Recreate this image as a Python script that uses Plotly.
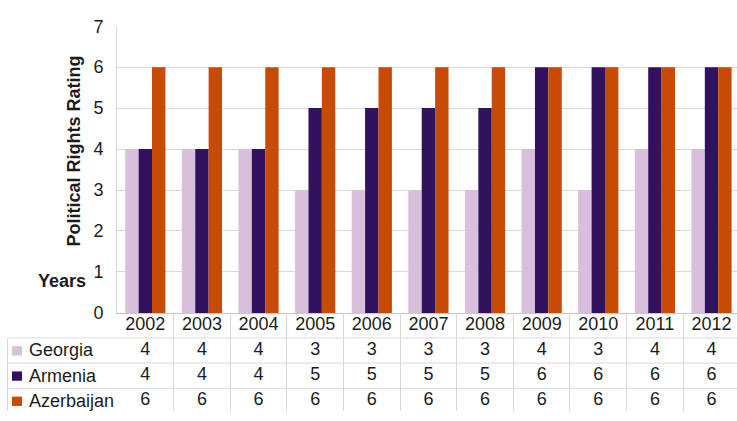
import plotly.graph_objects as go

years = ["2002", "2003", "2004", "2005", "2006", "2007", "2008", "2009", "2010", "2011", "2012"]
georgia = [4, 4, 4, 3, 3, 3, 3, 4, 3, 4, 4]
armenia = [4, 4, 4, 5, 5, 5, 5, 6, 6, 6, 6]
azerbaijan = [6, 6, 6, 6, 6, 6, 6, 6, 6, 6, 6]
series_names = ["Georgia", "Armenia", "Azerbaijan"]
series_values = [georgia, armenia, azerbaijan]
series_colors = ["#d9bfdc", "#32125f", "#c84b05"]
y_ticks = [0, 1, 2, 3, 4, 5, 6, 7]

W, H = 737, 421
FONT = "Liberation Sans, Arial, sans-serif"
TXT = "#1c1c1c"
GRID = "#d9d9d9"


def px(x):
    return x / W


def py(y):
    return (H - y) / H


fig = go.Figure()

for name, vals, col in zip(series_names, series_values, series_colors):
    fig.add_trace(go.Bar(x=years, y=vals, name=name, marker=dict(color=col, line=dict(width=0)),
                         xaxis="x", yaxis="y", showlegend=False, hoverinfo="x+y+name"))

# table header (years)
fig.add_trace(go.Scatter(x=years, y=[0] * len(years), mode="text", text=years,
                         textfont=dict(family=FONT, size=18, color=TXT),
                         xaxis="x2", yaxis="y2", showlegend=False, hoverinfo="skip"))
# table rows
for i, vals in enumerate(series_values):
    fig.add_trace(go.Scatter(x=years, y=[i + 1] * len(years), mode="text",
                             text=[str(v) for v in vals],
                             textfont=dict(family=FONT, size=18, color=TXT),
                             xaxis="x2", yaxis="y2", showlegend=False, hoverinfo="skip"))

shapes = []
annotations = []
# horizontal table lines
for b in [0.5, 1.5, 2.5]:
    shapes.append(dict(type="line", xref="paper", yref="y2", x0=px(7.5), x1=1, y0=b, y1=b,
                       line=dict(color=GRID, width=1)))
# left border of label column
shapes.append(dict(type="line", xref="paper", yref="y2", x0=px(7.5), x1=px(7.5), y0=0.5, y1=3.6,
                   line=dict(color=GRID, width=1)))
# row labels with colour keys
for i, (name, col) in enumerate(zip(series_names, series_colors)):
    r = i + 1
    shapes.append(dict(type="rect", xref="paper", yref="y2", x0=px(12), x1=px(22),
                       y0=r - 0.17, y1=r + 0.2, fillcolor=col, line=dict(width=0)))
    annotations.append(dict(text=name, xref="paper", yref="y2", x=px(26.5), y=r, xanchor="left",
                            yanchor="middle", showarrow=False,
                            font=dict(family=FONT, size=18, color=TXT)))

annotations.append(dict(text="<b>Political Rights Rating</b>", textangle=-90, xref="paper", yref="paper",
                        x=px(74), y=py(148.5), xanchor="center", yanchor="middle", showarrow=False,
                        font=dict(family=FONT, size=18, color=TXT)))
annotations.append(dict(text="<b>Years</b>", xref="paper", yref="paper",
                        x=px(62), y=py(285), xanchor="center", yanchor="middle", showarrow=False,
                        font=dict(family=FONT, size=18, color=TXT)))

fig.update_layout(
    width=W, height=H, autosize=False,
    margin=dict(l=0, r=0, t=0, b=0),
    paper_bgcolor="white", plot_bgcolor="white",
    barmode="group", bargap=0.29, bargroupgap=0,
    xaxis=dict(domain=[px(117), 1], range=[-0.5, 10.45], type="category", categoryarray=years,
               anchor="y", showticklabels=False, showgrid=False, ticks="",
               showline=True, linecolor="#c8c8c8", linewidth=1, zeroline=False),
    yaxis=dict(domain=[py(318), py(17)], range=[0, 7], tickvals=y_ticks, anchor="x",
               showgrid=True, gridcolor=GRID, gridwidth=1, zeroline=False,
               showline=True, linecolor=GRID, linewidth=1, ticks="", ticklabelstandoff=9,
               tickfont=dict(family=FONT, size=18, color=TXT)),
    xaxis2=dict(domain=[px(117), 1], range=[-0.5, 10.45], type="category", categoryarray=years,
                anchor="y2", showticklabels=False, showgrid=True, gridcolor=GRID, gridwidth=1,
                tickson="boundaries", ticks="", showline=False, zeroline=False),
    yaxis2=dict(domain=[0, py(318)], range=[3.40, -0.49], anchor="x2", showticklabels=False,
                showgrid=False, zeroline=False, showline=False, ticks=""),
    shapes=shapes,
    annotations=annotations,
)

fig.write_html("out.html")
